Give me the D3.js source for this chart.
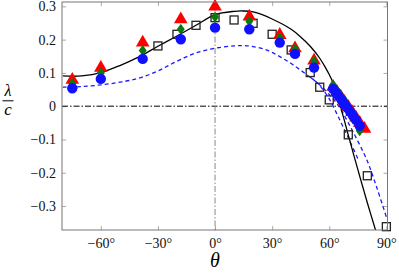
<!DOCTYPE html>
<html><head><meta charset="utf-8">
<script src="https://cdn.jsdelivr.net/npm/d3@7"></script>
<style>body{margin:0;background:#fff}svg{display:block}</style>
</head><body>
<svg id="c" width="399" height="273"></svg>
<script>
// ---- data ----
const xTicks = [-60, -30, 0, 30, 60, 90];
const yTicks = [-0.3, -0.2, -0.1, 0, 0.1, 0.2, 0.3];
const yTickLabels = ["\u22120.3", "\u22120.2", "\u22120.1", "0", "0.1", "0.2", "0.3"];
const xTickLabels = ["\u221260\u00b0", "\u221230\u00b0", "0\u00b0", "30\u00b0", "60\u00b0", "90\u00b0"];

// solid black curve
const solidTheta = [-80, -75, -70, -60, -50, -40, -30, -20, -10, 0, 10, 15, 20, 30, 40, 45, 50, 55, 58, 60, 62, 64, 66, 68, 70, 75, 80, 84.3];
const solidVal   = [0.091, 0.090, 0.091, 0.101, 0.122, 0.148, 0.180, 0.211, 0.243, 0.275, 0.285, 0.286, 0.283, 0.262, 0.231, 0.208, 0.180, 0.144, 0.116, 0.095, 0.070, 0.036, -0.003, -0.044, -0.087, -0.190, -0.290, -0.372];

// blue dashed curve (main) and its short branch
const dashTheta = [-80, -70, -60, -50, -40, -30, -20, -10, 0, 10, 15, 20, 27, 34, 40, 45, 50, 55, 60, 65, 70, 75, 80, 85, 90];
const dashVal   = [0.057, 0.059, 0.064, 0.072, 0.084, 0.106, 0.135, 0.160, 0.174, 0.181, 0.182, 0.179, 0.169, 0.149, 0.128, 0.108, 0.087, 0.064, 0.035, 0.000, -0.050, -0.105, -0.165, -0.245, -0.333];
const branchTheta = [50, 53, 56, 60, 65, 70, 75.3];
const branchVal   = [0.087, 0.074, 0.055, 0.022, -0.035, -0.095, -0.161];

// open squares
const sqTheta = [-30, -20, -10, 0, 10, 20, 30, 40, 50, 55, 60, 70, 80, 90];
const sqVal   = [0.181, 0.216, 0.243, 0.266, 0.259, 0.249, 0.216, 0.169, 0.101, 0.057, 0.019, -0.086, -0.209, -0.362];

// red triangles
const triTheta = [-75, -60, -38, -18, 0, 18, 34, 42, 52, 62, 64, 66, 68, 70, 72, 74, 76, 78.5];
const triVal   = [0.079, 0.115, 0.191, 0.261, 0.299, 0.269, 0.214, 0.174, 0.137, 0.058, 0.043, 0.029, 0.013, -0.002, -0.018, -0.034, -0.050, -0.068];

// green diamonds
const dmTheta = [-75, -60, -38, -18, 0, 18, 34, 42, 52, 62, 64, 66, 68, 70, 72, 74, 76];
const dmVal   = [0.068, 0.100, 0.167, 0.231, 0.268, 0.255, 0.205, 0.172, 0.135, 0.064, 0.048, 0.032, 0.016, 0.000, -0.018, -0.040, -0.074];

// blue circles
const ciTheta = [-75, -60, -38, -18, 0, 18, 34, 42, 52, 62, 63.5, 65, 66.5, 68, 69.5, 71, 72.5, 74, 76];
const ciVal   = [0.054, 0.082, 0.142, 0.201, 0.236, 0.231, 0.191, 0.157, 0.116, 0.052, 0.041, 0.030, 0.018, 0.006, -0.005, -0.017, -0.029, -0.041, -0.059];

// ---- drawing ----
const FONT = "'Liberation Serif','DejaVu Serif','Times New Roman',serif";
const svg = d3.select("#c");
const L = 62, R = 387.5, T = 2, B = 230;
const x = d3.scaleLinear().domain([-80.4, 90.6]).range([L, R]);
const y = d3.scaleLinear().domain([-0.372, 0.313]).range([B, T]);

svg.append("defs").append("clipPath").attr("id", "clip")
  .append("rect").attr("x", L).attr("y", T).attr("width", R - L).attr("height", B - T);

const frameCol = "#777", tickCol = "#aaa";
const g = svg.append("g");

const axB = d3.axisBottom(x).tickValues(xTicks).tickSize(-4).tickFormat((d, i) => xTickLabels[i]).tickPadding(8);
const axT = d3.axisTop(x).tickValues(xTicks).tickSize(-4).tickFormat("");
const axL = d3.axisLeft(y).tickValues(yTicks).tickSize(-4).tickFormat((d, i) => yTickLabels[i]).tickPadding(6);
const axR = d3.axisRight(y).tickValues(yTicks).tickSize(-4).tickFormat("");

function styleAxis(sel) {
  sel.attr("font-family", null).attr("font-size", null);
  sel.select(".domain").remove();
  sel.selectAll(".tick line").attr("stroke", tickCol).attr("stroke-width", 1);
  sel.selectAll(".tick text").attr("fill", "#111").style("font-family", FONT).style("font-size", "14px");
}
g.append("g").attr("transform", `translate(0,${B})`).call(axB).call(styleAxis);
g.append("g").attr("transform", `translate(0,${T})`).call(axT).call(styleAxis);
g.append("g").attr("transform", `translate(${L},0)`).call(axL).call(styleAxis);
g.append("g").attr("transform", `translate(${R},0)`).call(axR).call(styleAxis);

const plot = svg.append("g").attr("clip-path", "url(#clip)");

plot.append("line").attr("x1", L).attr("x2", R).attr("y1", y(0)).attr("y2", y(0))
  .attr("stroke", "#000").attr("stroke-width", 1).attr("stroke-dasharray", "6,2,1.5,2");
plot.append("line").attr("x1", x(0)).attr("x2", x(0)).attr("y1", T).attr("y2", B)
  .attr("stroke", "#888").attr("stroke-width", 1).attr("stroke-dasharray", "6,2,1.5,2");

const line = d3.line().x(d => x(d[0])).y(d => y(d[1])).curve(d3.curveCatmullRom);
const zip = (a, b) => a.map((v, i) => [v, b[i]]);

plot.append("path").attr("d", line(zip(dashTheta, dashVal))).attr("fill", "none")
  .attr("stroke", "#1a1aff").attr("stroke-width", 1.3).attr("stroke-dasharray", "4,3");
plot.append("path").attr("d", line(zip(branchTheta, branchVal))).attr("fill", "none")
  .attr("stroke", "#1a1aff").attr("stroke-width", 1.3).attr("stroke-dasharray", "4,3");
plot.append("path").attr("d", line(zip(solidTheta, solidVal))).attr("fill", "none")
  .attr("stroke", "#000").attr("stroke-width", 1.3);

const mk = svg.append("g");
mk.selectAll("rect.sq").data(zip(sqTheta, sqVal)).join("rect")
  .attr("x", d => x(d[0]) - 4).attr("y", d => y(d[1]) - 4).attr("width", 8).attr("height", 8)
  .attr("fill", "none").attr("stroke", "#222").attr("stroke-width", 1.3);

const tri = d3.symbol().type(d3.symbolTriangle).size(80);
mk.selectAll("path.tri").data(zip(triTheta, triVal)).join("path")
  .attr("d", tri).attr("transform", d => `translate(${x(d[0])},${y(d[1])})`).attr("fill", "#f00");

mk.selectAll("path.dm").data(zip(dmTheta, dmVal)).join("path")
  .attr("d", "M0,-5.5L4,0L0,5.5L-4,0Z").attr("transform", d => `translate(${x(d[0])},${y(d[1])})`).attr("fill", "#0a7a0a");

mk.selectAll("circle.ci").data(zip(ciTheta, ciVal)).join("circle")
  .attr("cx", d => x(d[0])).attr("cy", d => y(d[1])).attr("r", 5.2).attr("fill", "#1010ff");

svg.append("rect").attr("x", L).attr("y", T).attr("width", R - L).attr("height", B - T)
  .attr("fill", "none").attr("stroke", frameCol).attr("stroke-width", 1);

svg.append("text").attr("x", 215).attr("y", 267).attr("text-anchor", "middle")
  .style("font-family", FONT).style("font-style", "italic").style("font-size", "20px").text("\u03b8");
svg.append("text").attr("x", 8).attr("y", 96).attr("text-anchor", "middle")
  .style("font-family", FONT).style("font-style", "italic").style("font-size", "16px").text("\u03bb");
svg.append("line").attr("x1", 2.5).attr("x2", 13.5).attr("y1", 100.8).attr("y2", 100.8).attr("stroke", "#000").attr("stroke-width", 1);
svg.append("text").attr("x", 8).attr("y", 114.5).attr("text-anchor", "middle")
  .style("font-family", FONT).style("font-style", "italic").style("font-size", "17px").text("c");
</script>
</body></html>
